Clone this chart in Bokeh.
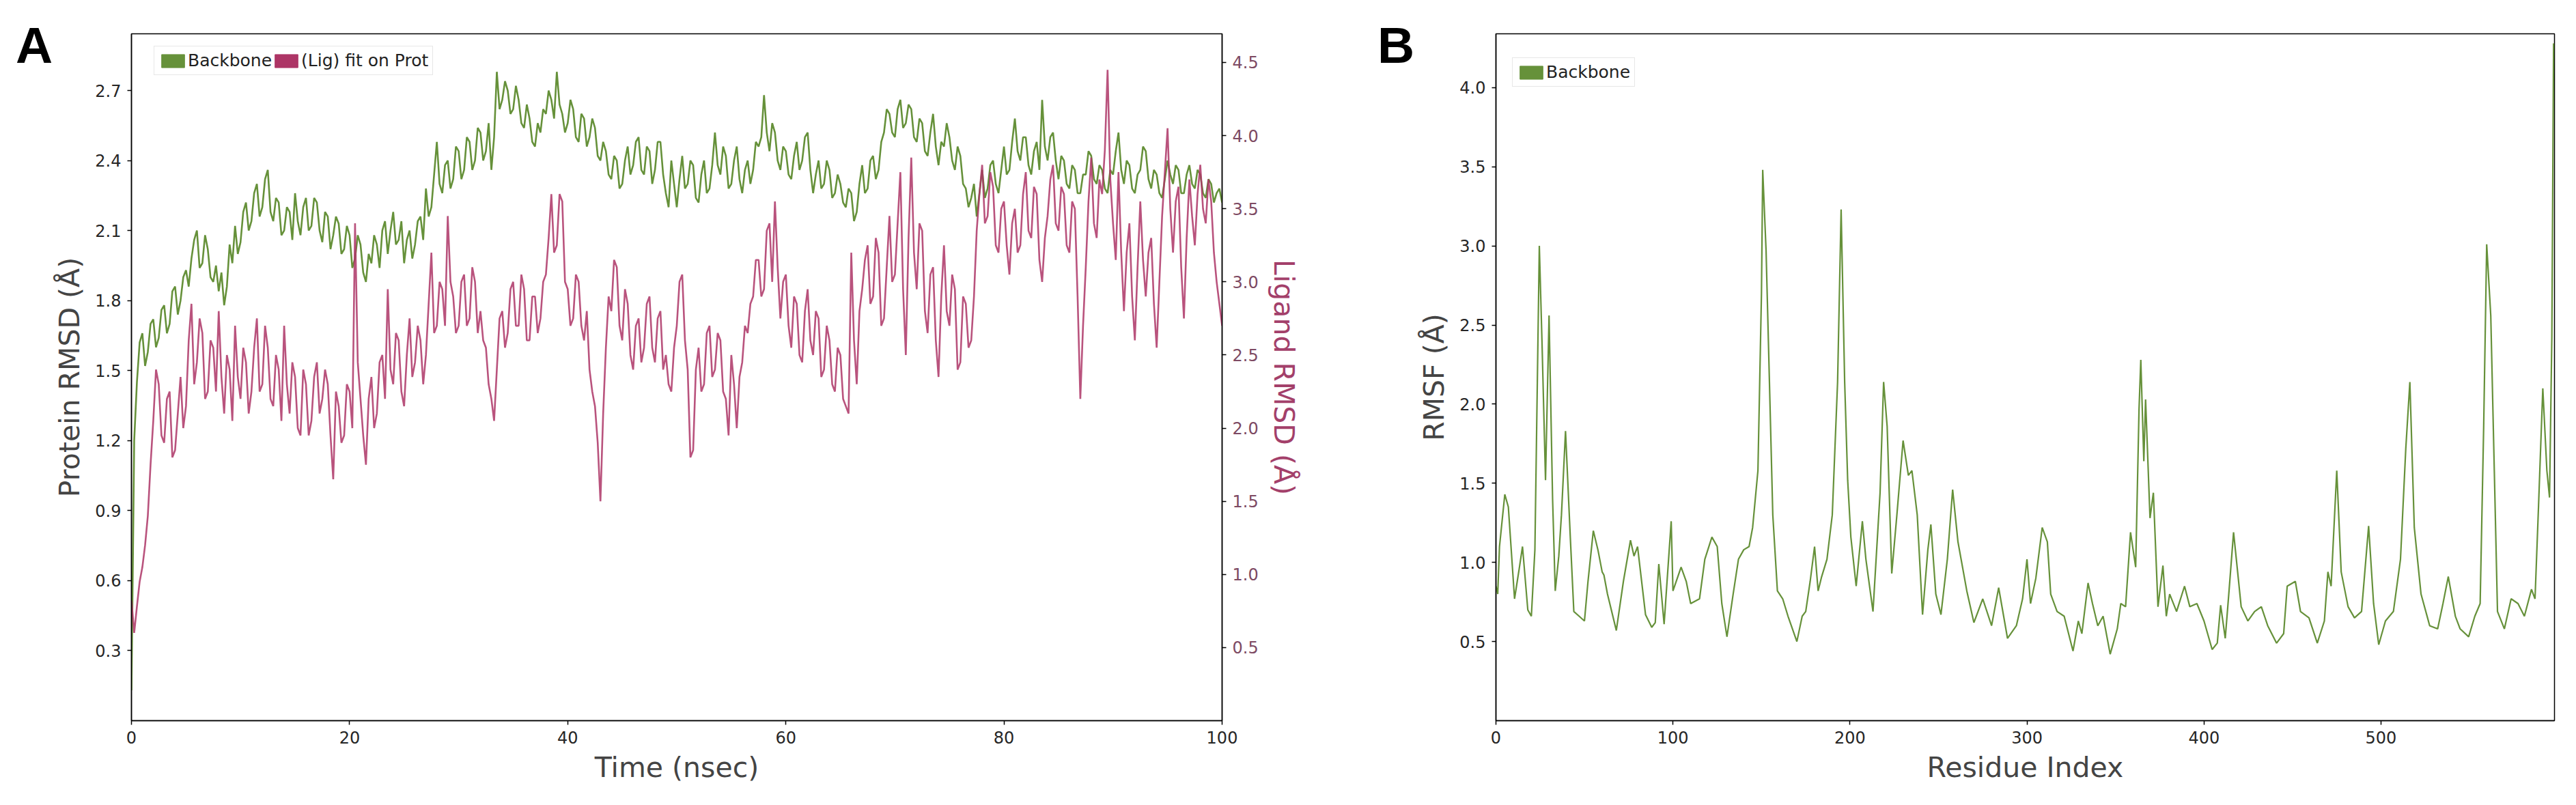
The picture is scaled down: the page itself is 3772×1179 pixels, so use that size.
import numpy as np
from bokeh.plotting import figure
from bokeh.models import (Range1d, LinearAxis, FixedTicker, PrintfTickFormatter,
                          Legend, LegendItem, Div)
from bokeh.layouts import row, column
from bokeh.embed import file_html
from bokeh.resources import INLINE

# ---------------- data ----------------
protein_rmsd = [
    0.13, 1.20, 1.45, 1.62, 1.66, 1.52, 1.58, 1.70, 1.72, 1.60, 1.64, 1.76, 1.78, 1.66, 1.70, 1.84, 1.86, 1.74, 1.80, 1.90,
    1.93, 1.86, 1.98, 2.06, 2.10, 1.94, 1.96, 2.08, 2.02, 1.90, 1.88, 1.95, 1.84, 1.92, 1.78, 1.86, 2.04, 1.96, 2.12, 2.00,
    2.05, 2.18, 2.22, 2.10, 2.14, 2.26, 2.30, 2.16, 2.20, 2.32, 2.36, 2.18, 2.14, 2.24, 2.22, 2.08, 2.10, 2.20, 2.18, 2.06,
    2.26, 2.14, 2.08, 2.20, 2.24, 2.10, 2.12, 2.24, 2.22, 2.10, 2.05, 2.18, 2.16, 2.02, 2.08, 2.16, 2.13, 2.00, 2.02, 2.12,
    2.08, 1.94, 1.98, 2.08, 2.04, 1.92, 1.88, 2.00, 1.96, 2.08, 2.04, 1.94, 2.10, 2.14, 2.00, 2.10, 2.18, 2.04, 2.06, 2.14,
    1.96, 2.06, 2.10, 1.98, 2.04, 2.14, 2.16, 2.06, 2.28, 2.16, 2.20, 2.34, 2.48, 2.30, 2.26, 2.38, 2.40, 2.28, 2.32, 2.46,
    2.44, 2.32, 2.36, 2.50, 2.48, 2.36, 2.40, 2.54, 2.52, 2.40, 2.44, 2.56, 2.36, 2.50, 2.78, 2.62, 2.66, 2.74, 2.70, 2.60,
    2.62, 2.72, 2.66, 2.56, 2.54, 2.64, 2.58, 2.48, 2.46, 2.56, 2.52, 2.62, 2.60, 2.70, 2.66, 2.58, 2.78, 2.64, 2.60, 2.52,
    2.56, 2.66, 2.62, 2.50, 2.48, 2.60, 2.58, 2.46, 2.50, 2.58, 2.54, 2.42, 2.40, 2.48, 2.44, 2.34, 2.32, 2.42, 2.40, 2.28,
    2.30, 2.40, 2.46, 2.34, 2.38, 2.48, 2.50, 2.36, 2.34, 2.46, 2.44, 2.30, 2.36, 2.48, 2.48, 2.34, 2.26, 2.20, 2.40, 2.30,
    2.20, 2.32, 2.42, 2.28, 2.30, 2.40, 2.38, 2.24, 2.22, 2.34, 2.40, 2.26, 2.28, 2.38, 2.52, 2.38, 2.34, 2.46, 2.42, 2.28,
    2.30, 2.40, 2.46, 2.32, 2.26, 2.36, 2.40, 2.30, 2.36, 2.48, 2.46, 2.50, 2.68, 2.52, 2.44, 2.56, 2.52, 2.40, 2.36, 2.46,
    2.44, 2.34, 2.32, 2.42, 2.48, 2.36, 2.40, 2.50, 2.52, 2.36, 2.26, 2.34, 2.40, 2.28, 2.30, 2.40, 2.36, 2.24, 2.26, 2.34,
    2.30, 2.22, 2.20, 2.28, 2.26, 2.14, 2.18, 2.30, 2.38, 2.26, 2.28, 2.40, 2.42, 2.32, 2.36, 2.48, 2.52, 2.62, 2.60, 2.52,
    2.50, 2.62, 2.66, 2.54, 2.56, 2.64, 2.62, 2.50, 2.48, 2.58, 2.56, 2.44, 2.42, 2.52, 2.60, 2.46, 2.38, 2.48, 2.46, 2.56,
    2.50, 2.40, 2.36, 2.46, 2.42, 2.30, 2.28, 2.20, 2.24, 2.30, 2.16, 2.26, 2.36, 2.24, 2.28, 2.38, 2.40, 2.30, 2.26, 2.36,
    2.46, 2.34, 2.36, 2.48, 2.58, 2.44, 2.40, 2.50, 2.50, 2.38, 2.34, 2.44, 2.48, 2.36, 2.66, 2.46, 2.40, 2.50, 2.52, 2.40,
    2.32, 2.42, 2.40, 2.30, 2.28, 2.38, 2.36, 2.26, 2.26, 2.34, 2.34, 2.44, 2.42, 2.32, 2.30, 2.38, 2.36, 2.28, 2.26, 2.36,
    2.34, 2.44, 2.52, 2.36, 2.30, 2.40, 2.38, 2.28, 2.26, 2.34, 2.36, 2.46, 2.44, 2.32, 2.28, 2.36, 2.34, 2.26, 2.24, 2.32,
    2.40, 2.34, 2.30, 2.38, 2.36, 2.26, 2.26, 2.34, 2.38, 2.30, 2.28, 2.36, 2.34, 2.26, 2.24, 2.32, 2.30, 2.22, 2.26, 2.28,
    2.22,
]

ligand_rmsd = [
    0.82, 0.60, 0.78, 0.95, 1.05, 1.20, 1.40, 1.75, 2.05, 2.40, 2.30, 1.95, 1.90, 2.20, 2.25, 1.80, 1.85, 2.10, 2.35, 2.00,
    2.15, 2.60, 2.85, 2.30, 2.45, 2.75, 2.65, 2.20, 2.25, 2.60, 2.55, 2.25, 2.80, 2.35, 2.10, 2.50, 2.40, 2.05, 2.70, 2.35,
    2.20, 2.55, 2.45, 2.10, 2.25, 2.55, 2.75, 2.25, 2.30, 2.70, 2.55, 2.20, 2.15, 2.50, 2.40, 2.05, 2.70, 2.30, 2.10, 2.45,
    2.35, 2.00, 1.95, 2.40, 2.30, 1.95, 2.05, 2.35, 2.45, 2.10, 2.20, 2.40, 2.30, 1.95, 1.65, 2.25, 2.15, 1.90, 1.95, 2.30,
    2.25, 2.00, 3.40, 2.45, 2.20, 1.95, 1.75, 2.20, 2.35, 2.00, 2.10, 2.45, 2.50, 2.20, 2.95, 2.40, 2.30, 2.65, 2.60, 2.25,
    2.15, 2.50, 2.75, 2.35, 2.45, 2.70, 2.60, 2.30, 2.50, 2.85, 3.20, 2.65, 2.70, 3.00, 2.95, 2.70, 3.45, 3.00, 2.90, 2.65,
    2.70, 3.00, 3.05, 2.70, 2.75, 3.10, 3.00, 2.65, 2.80, 2.60, 2.55, 2.30, 2.20, 2.05, 2.40, 2.75, 2.80, 2.55, 2.65, 2.95,
    3.00, 2.70, 2.70, 3.05, 2.95, 2.60, 2.60, 2.90, 2.90, 2.65, 2.75, 3.00, 3.05, 3.30, 3.60, 3.20, 3.25, 3.60, 3.55, 3.00,
    2.95, 2.70, 2.75, 3.05, 3.00, 2.70, 2.60, 2.80, 2.40, 2.25, 2.15, 1.90, 1.50, 2.10, 2.55, 2.90, 2.80, 3.15, 3.10, 2.70,
    2.60, 2.95, 2.85, 2.50, 2.40, 2.70, 2.75, 2.45, 2.55, 2.85, 2.90, 2.55, 2.45, 2.75, 2.80, 2.40, 2.50, 2.30, 2.25, 2.55,
    2.70, 3.00, 3.05, 2.60, 2.40, 1.80, 1.85, 2.40, 2.55, 2.25, 2.30, 2.65, 2.70, 2.35, 2.40, 2.65, 2.60, 2.25, 2.20, 1.95,
    2.50, 2.30, 2.00, 2.35, 2.45, 2.70, 2.65, 2.85, 2.90, 3.15, 3.15, 2.90, 2.95, 3.35, 3.40, 3.00, 3.55, 3.10, 2.75, 3.00,
    3.05, 2.70, 2.55, 2.90, 2.85, 2.50, 2.45, 2.80, 2.95, 2.60, 2.50, 2.80, 2.75, 2.35, 2.40, 2.70, 2.60, 2.30, 2.25, 2.55,
    2.50, 2.20, 2.15, 2.10, 3.20, 2.60, 2.30, 2.80, 2.95, 3.15, 3.25, 2.85, 2.90, 3.30, 3.20, 2.70, 2.75, 3.10, 3.45, 3.00,
    3.05, 3.40, 3.75, 2.95, 2.50, 3.30, 3.85, 3.20, 2.95, 3.40, 3.35, 2.80, 2.65, 3.05, 3.10, 2.60, 2.35, 2.90, 3.25, 2.80,
    2.70, 3.05, 2.95, 2.40, 2.45, 2.90, 2.85, 2.55, 2.60, 2.90, 3.35, 3.60, 3.80, 3.40, 3.45, 3.75, 3.65, 3.25, 3.20, 3.50,
    3.55, 3.25, 3.05, 3.40, 3.50, 3.20, 3.25, 3.60, 3.75, 3.35, 3.30, 3.65, 3.60, 3.15, 3.00, 3.30, 3.45, 3.70, 3.80, 3.40,
    3.35, 3.65, 3.60, 3.25, 3.20, 3.55, 3.50, 2.90, 2.20, 2.70, 3.10, 3.55, 3.85, 3.40, 3.30, 3.70, 3.60, 3.90, 4.45, 3.70,
    3.40, 3.15, 3.75, 3.20, 2.80, 3.20, 3.40, 2.90, 2.60, 3.10, 3.55, 3.15, 2.90, 3.20, 3.30, 2.85, 2.55, 3.00, 3.45, 3.75,
    4.05, 3.50, 3.20, 3.55, 3.65, 3.10, 2.75, 3.30, 3.70, 3.45, 3.25, 3.60, 3.80, 3.50, 3.40, 3.70, 3.55, 3.20, 3.00, 2.85,
    2.70,
]

frame_step_ns = 0.25
time_ns = np.arange(len(protein_rmsd)) * frame_step_ns
time_lig = np.arange(len(ligand_rmsd)) * frame_step_ns

residue_index = [
    0, 1, 2, 5, 7, 10.5, 13, 15, 18, 20, 22, 24.5, 26, 28, 30, 32, 33.5, 35.5, 37, 39.3,
    42, 44, 47, 50, 52, 55, 57.6, 60, 61, 63, 68, 72, 76, 78, 80, 84.5, 88, 90, 92, 95,
    99, 100, 104.6, 107.5, 110, 115, 118, 122, 125, 127.6, 130.5, 134, 137, 140, 143, 145, 148, 150, 150.7, 152.6,
    154.5, 156.4, 159, 162, 165, 170, 173, 175, 177.5, 180, 182, 184, 187, 190, 193, 195, 197, 198.7, 200.5, 203.5,
    207, 209, 213, 217, 219, 221, 223.6, 226.5, 230, 233, 235, 238, 241, 244, 245.7, 248.5, 251.4, 255, 258, 261,
    266, 270, 275, 280, 284, 289, 294, 297.5, 300, 302, 305, 308.6, 311.5, 313.4, 317, 321, 326, 329, 331, 334.5,
    337, 340, 343, 347, 351, 353, 355.7, 358.5, 361.4, 363.3, 364.3, 366, 367, 369.5, 371.4, 374, 376.8, 378.7, 380.6, 384.5,
    389, 392, 396, 400, 404.6, 407.5, 409.4, 412, 414, 416.7, 419, 421, 424.8, 428.6, 432.4, 436, 441, 445, 447, 451.6,
    454.5, 459.3, 464, 468, 470, 471.8, 475, 477.5, 481.4, 485, 489, 493, 495.8, 498.7, 502.5, 507, 511, 514, 516.3, 518.8,
    522.6, 527.5, 532, 535, 538, 542, 544.7, 549.5, 553, 556, 558, 559.7, 562, 564, 565.8, 569.7, 573.5, 577.4, 581, 585,
    587, 589, 591.4, 593.7, 595.2, 596.5, 597.5,
]

rmsf_backbone = [
    0.85, 0.80, 1.10, 1.43, 1.35, 0.77, 0.95, 1.10, 0.70, 0.66, 1.08, 3.00, 2.40, 1.52, 2.56, 1.40, 0.82, 1.04, 1.30, 1.83,
    1.16, 0.69, 0.66, 0.63, 0.88, 1.20, 1.08, 0.94, 0.92, 0.80, 0.57, 0.88, 1.14, 1.04, 1.10, 0.67, 0.59, 0.62, 0.99, 0.61,
    1.26, 0.82, 0.97, 0.88, 0.74, 0.77, 1.02, 1.16, 1.10, 0.74, 0.53, 0.80, 1.02, 1.08, 1.10, 1.22, 1.58, 2.70, 3.48, 2.97,
    2.14, 1.30, 0.82, 0.77, 0.66, 0.50, 0.66, 0.69, 0.88, 1.10, 0.82, 0.91, 1.02, 1.30, 2.14, 3.23, 2.14, 1.52, 1.16, 0.85,
    1.26, 1.02, 0.69, 1.44, 2.14, 1.86, 0.93, 1.30, 1.77, 1.55, 1.58, 1.30, 0.67, 1.08, 1.24, 0.80, 0.67, 1.02, 1.46, 1.13,
    0.82, 0.62, 0.77, 0.60, 0.84, 0.52, 0.60, 0.77, 1.02, 0.74, 0.90, 1.22, 1.13, 0.80, 0.69, 0.66, 0.44, 0.63, 0.55, 0.87,
    0.74, 0.60, 0.66, 0.42, 0.58, 0.74, 0.72, 1.19, 0.97, 1.97, 2.28, 1.64, 2.03, 1.28, 1.44, 0.72, 0.98, 0.66, 0.80, 0.69,
    0.85, 0.72, 0.74, 0.63, 0.45, 0.49, 0.73, 0.52, 0.80, 1.19, 0.94, 0.72, 0.63, 0.69, 0.72, 0.60, 0.49, 0.55, 0.85, 0.88,
    0.69, 0.65, 0.49, 0.63, 0.94, 0.85, 1.58, 0.94, 0.72, 0.65, 0.69, 1.23, 0.74, 0.48, 0.63, 0.69, 1.02, 1.72, 2.14, 1.22,
    0.80, 0.60, 0.58, 0.74, 0.91, 0.66, 0.58, 0.53, 0.66, 0.74, 1.86, 3.01, 2.56, 1.58, 0.69, 0.58, 0.77, 0.74, 0.66, 0.83,
    0.77, 1.36, 2.10, 1.58, 1.41, 2.42, 4.28,
]

time_ticks = [0, 20, 40, 60, 80, 100]
protein_ticks = [0.3, 0.6, 0.9, 1.2, 1.5, 1.8, 2.1, 2.4, 2.7]
ligand_ticks = [0.5, 1.0, 1.5, 2.0, 2.5, 3.0, 3.5, 4.0, 4.5]
residue_ticks = [0, 100, 200, 300, 400, 500]
rmsf_ticks = [0.5, 1.0, 1.5, 2.0, 2.5, 3.0, 3.5, 4.0]

# ---------------- style ----------------
GREEN = "#66913a"
PINK = "#ad3566"
PINK_TXT = "#a3406a"
TICK_TXT = "#262626"
FONT = "DejaVu Sans"


def style_axis(ax, ticks, fmt=None, color=TICK_TXT):
    ax.ticker = FixedTicker(ticks=ticks)
    if fmt:
        ax.formatter = PrintfTickFormatter(format=fmt)
    ax.major_label_text_font = FONT
    ax.major_label_text_font_size = "24px"
    ax.major_label_text_color = color
    ax.major_tick_out = 6
    ax.major_tick_in = 0
    ax.major_tick_line_color = "black"
    ax.major_tick_line_width = 1.5
    ax.minor_tick_line_color = None
    ax.axis_line_color = "black"
    ax.axis_line_width = 1.5
    ax.major_label_standoff = 9
    ax.axis_label_text_font = FONT
    ax.axis_label_text_font_size = "41px"
    ax.axis_label_text_font_style = "normal"
    ax.axis_label_standoff = 10


def make_fig(width, left, right, xr, yr):
    p = figure(width=width, height=1163, x_range=xr, y_range=yr,
               output_backend="svg", toolbar_location=None,
               min_border_left=left, min_border_right=right,
               min_border_top=49, min_border_bottom=108)
    p.xgrid.visible = False
    p.ygrid.visible = False
    p.outline_line_color = "black"
    p.outline_line_width = 1.5
    p.background_fill_color = "white"
    p.border_fill_alpha = 0.0
    return p


def key_patch(p, color, xs, ys):
    # invisible zero-size proxy used only to draw a filled legend key
    r = p.quad(left=[xs[0]], right=[xs[0]], top=[ys[0]], bottom=[ys[0]],
               fill_color=color, line_color=color)
    r.visible = False
    return r


def style_legend(leg):
    leg.orientation = "horizontal"
    leg.label_text_font = FONT
    leg.label_text_font_size = "25px"
    leg.label_text_color = "#222222"
    leg.glyph_width = 42
    leg.glyph_height = 24
    leg.label_standoff = 1
    leg.spacing = 0
    leg.padding = 6
    leg.margin = 0
    leg.border_line_color = "#d0d0d0"
    leg.border_line_width = 1
    leg.background_fill_color = "white"
    leg.background_fill_alpha = 0.9
    leg.inactive_fill_alpha = 0.0


def panel_letter(letter, left):
    html = ('<div style="font-family: \'Liberation Sans\', Arial, sans-serif; '
            'font-weight: bold; font-size: 75px; line-height: 75px; color: black;">'
            + letter + '</div>')
    return Div(text=html, width=100, height=100, margin=(29, 0, -129, left))


# ---------------- panel A ----------------
pA = make_fig(2000, 192, 211, Range1d(0, 100), Range1d(0.0, 2.943))
pA.extra_y_ranges = {"lig": Range1d(0.0, 4.696)}

pA.line(time_ns, protein_rmsd, color=GREEN, line_width=2.6)
pA.line(time_lig, ligand_rmsd, color=PINK, line_width=2.6, line_alpha=0.85,
        y_range_name="lig")

style_axis(pA.xaxis[0], time_ticks)
pA.xaxis[0].axis_label = "Time (nsec)"
pA.xaxis[0].axis_label_standoff = 8
style_axis(pA.yaxis[0], protein_ticks, "%.1f")
pA.yaxis[0].axis_label = "Protein RMSD (Å)"

axR = LinearAxis(y_range_name="lig")
style_axis(axR, ligand_ticks, "%.1f", color="#7d4a63")
axR.axis_label = "Ligand RMSD (Å)"
axR.axis_label_text_color = PINK_TXT
pA.add_layout(axR, "right")

gA = key_patch(pA, GREEN, time_ns, protein_rmsd)
lA = key_patch(pA, PINK, time_ns, protein_rmsd)
legA = Legend(items=[LegendItem(label="Backbone", renderers=[gA]),
                     LegendItem(label="(Lig) fit on Prot", renderers=[lA])],
              location=(33, 1006 - 20 - 41))
style_legend(legA)
pA.add_layout(legA)

# ---------------- panel B ----------------
pB = make_fig(1756, 190, 16, Range1d(0, 598), Range1d(0.0, 4.34))
pB.line(residue_index, rmsf_backbone, color=GREEN, line_width=2.2)

style_axis(pB.xaxis[0], residue_ticks)
pB.xaxis[0].axis_label = "Residue Index"
pB.xaxis[0].axis_label_standoff = 8
style_axis(pB.yaxis[0], rmsf_ticks, "%.1f")
pB.yaxis[0].axis_label = "RMSF (Å)"

gB = key_patch(pB, GREEN, residue_index, rmsf_backbone)
legB = Legend(items=[LegendItem(label="Backbone", renderers=[gB])],
              location=(24, 1006 - 37 - 41))
style_legend(legB)
pB.add_layout(legB)

layout = row(column(panel_letter("A", 23), pA, spacing=0),
             column(panel_letter("B", 17), pB, spacing=0), spacing=0)
open("out.html", "w").write(file_html(layout, INLINE))
